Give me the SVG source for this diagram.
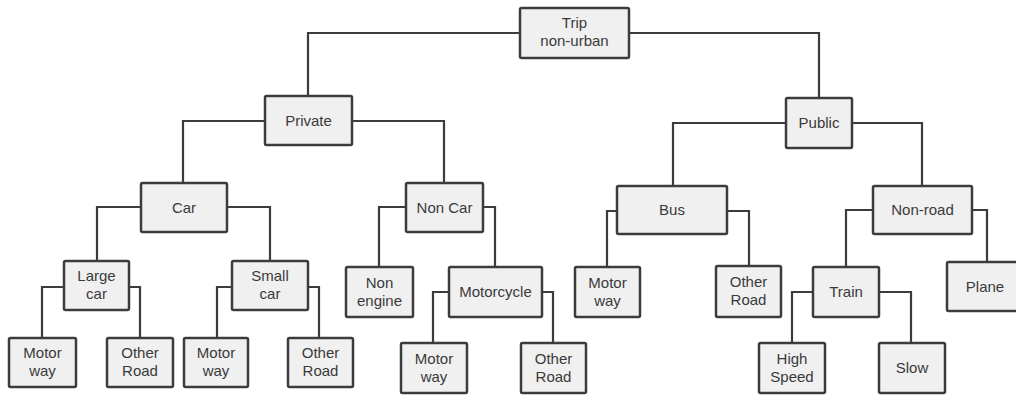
<svg xmlns="http://www.w3.org/2000/svg" width="1016" height="395" viewBox="0 0 1016 395">
  <style>
    .box { fill: #f0f0f0; stroke: #3c3c3c; stroke-width: 2.5; }
    .lbl { font-family: "Liberation Sans", Arial, sans-serif; font-size: 15px; fill: #3a3a3a; text-anchor: middle; }
    .wire { fill: none; stroke: #3c3c3c; stroke-width: 2.2; }
  </style>
  <rect width="1016" height="395" fill="#ffffff"/>

  <!-- tree connectors: parent side -> child top -->
  <g id="connectors" class="wire">
    <path d="M520,33 H308 V96"/>
    <path d="M629,33 H819 V98"/>
    <path d="M265,121 H183 V183"/>
    <path d="M352,121 H444 V183"/>
    <path d="M786,123 H673 V186"/>
    <path d="M852,123 H922 V186"/>
    <path d="M141,207 H97 V261"/>
    <path d="M227,207 H270 V261"/>
    <path d="M64,287 H42 V338"/>
    <path d="M129,287 H140 V338"/>
    <path d="M232,287 H217 V338"/>
    <path d="M308,287 H319 V338"/>
    <path d="M406,207 H379 V267"/>
    <path d="M483,207 H495 V267"/>
    <path d="M449,292 H433 V343"/>
    <path d="M542,292 H553 V343"/>
    <path d="M617,211 H607 V267"/>
    <path d="M727,211 H749 V266"/>
    <path d="M873,210 H846 V267"/>
    <path d="M972,210 H987 V262"/>
    <path d="M813,292 H792 V343"/>
    <path d="M879,292 H911 V343"/>
  </g>

  <g id="trip"><rect class="box" x="520" y="8" width="109" height="50" rx="1.5"/>
    <text class="lbl" x="574.5" y="28">Trip</text><text class="lbl" x="574.5" y="46">non-urban</text></g>
  <g id="private"><rect class="box" x="265" y="96" width="87" height="49" rx="1.5"/>
    <text class="lbl" x="308.5" y="125.5">Private</text></g>
  <g id="public"><rect class="box" x="786" y="98" width="66" height="50" rx="1.5"/>
    <text class="lbl" x="819" y="128">Public</text></g>
  <g id="car"><rect class="box" x="141" y="183" width="86" height="49" rx="1.5"/>
    <text class="lbl" x="184" y="212.5">Car</text></g>
  <g id="noncar"><rect class="box" x="406" y="183" width="77" height="49" rx="1.5"/>
    <text class="lbl" x="444.5" y="212.5">Non Car</text></g>
  <g id="bus"><rect class="box" x="617" y="186" width="110" height="48" rx="1.5"/>
    <text class="lbl" x="672" y="215">Bus</text></g>
  <g id="nonroad"><rect class="box" x="873" y="186" width="99" height="48" rx="1.5"/>
    <text class="lbl" x="922.5" y="215">Non-road</text></g>
  <g id="largecar"><rect class="box" x="64" y="261" width="65" height="49" rx="1.5"/>
    <text class="lbl" x="96.5" y="281">Large</text><text class="lbl" x="96.5" y="299">car</text></g>
  <g id="smallcar"><rect class="box" x="232" y="261" width="76" height="49" rx="1.5"/>
    <text class="lbl" x="270" y="281">Small</text><text class="lbl" x="270" y="299">car</text></g>
  <g id="nonengine"><rect class="box" x="346" y="267" width="67" height="50" rx="1.5"/>
    <text class="lbl" x="379.5" y="287.5">Non</text><text class="lbl" x="379.5" y="305.5">engine</text></g>
  <g id="motorcycle"><rect class="box" x="449" y="267" width="93" height="50" rx="1.5"/>
    <text class="lbl" x="495.5" y="297">Motorcycle</text></g>
  <g id="bus-motorway"><rect class="box" x="575" y="267" width="65" height="50" rx="1.5"/>
    <text class="lbl" x="607.5" y="287.5">Motor</text><text class="lbl" x="607.5" y="305.5">way</text></g>
  <g id="bus-otherroad"><rect class="box" x="716" y="266" width="65" height="51" rx="1.5"/>
    <text class="lbl" x="748.5" y="287">Other</text><text class="lbl" x="748.5" y="305">Road</text></g>
  <g id="train"><rect class="box" x="813" y="267" width="66" height="50" rx="1.5"/>
    <text class="lbl" x="846" y="297">Train</text></g>
  <g id="plane"><rect class="box" x="947" y="262" width="80" height="49" rx="1.5"/>
    <text class="lbl" x="985" y="291.5">Plane</text></g>
  <g id="largecar-motorway"><rect class="box" x="9" y="338" width="67" height="49" rx="1.5"/>
    <text class="lbl" x="42.5" y="358">Motor</text><text class="lbl" x="42.5" y="376">way</text></g>
  <g id="largecar-otherroad"><rect class="box" x="107" y="338" width="66" height="49" rx="1.5"/>
    <text class="lbl" x="140" y="358">Other</text><text class="lbl" x="140" y="376">Road</text></g>
  <g id="smallcar-motorway"><rect class="box" x="184" y="338" width="64" height="49" rx="1.5"/>
    <text class="lbl" x="216" y="358">Motor</text><text class="lbl" x="216" y="376">way</text></g>
  <g id="smallcar-otherroad"><rect class="box" x="288" y="338" width="65" height="49" rx="1.5"/>
    <text class="lbl" x="320.5" y="358">Other</text><text class="lbl" x="320.5" y="376">Road</text></g>
  <g id="moto-motorway"><rect class="box" x="401" y="343" width="66" height="50" rx="1.5"/>
    <text class="lbl" x="434" y="363.5">Motor</text><text class="lbl" x="434" y="381.5">way</text></g>
  <g id="moto-otherroad"><rect class="box" x="521" y="343" width="65" height="50" rx="1.5"/>
    <text class="lbl" x="553.5" y="363.5">Other</text><text class="lbl" x="553.5" y="381.5">Road</text></g>
  <g id="highspeed"><rect class="box" x="759" y="343" width="66" height="50" rx="1.5"/>
    <text class="lbl" x="792" y="363.5">High</text><text class="lbl" x="792" y="381.5">Speed</text></g>
  <g id="slow"><rect class="box" x="879" y="343" width="66" height="50" rx="1.5"/>
    <text class="lbl" x="912" y="373">Slow</text></g>
</svg>
